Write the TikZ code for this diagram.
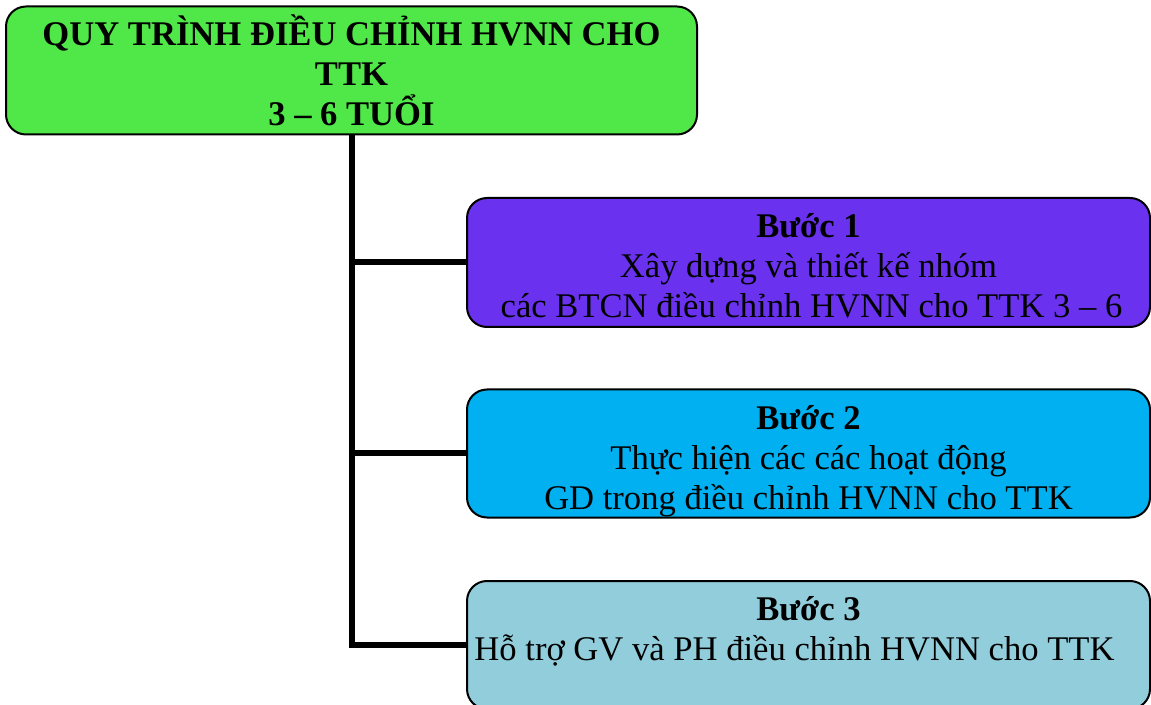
\documentclass[tikz,border=0pt]{standalone}
\usepackage{fontspec}
\setmainfont{Liberation Serif}
\usepackage{tikz}
\usepackage{tkz-euclide}

%Cores das caixas do fluxograma
\definecolor{verde}{RGB}{80,232,72}
\definecolor{roxo}{RGB}{106,50,238}
\definecolor{azul}{RGB}{0,176,240}
\definecolor{azulclaro}{RGB}{146,205,220}

%Unidade auxiliar: 1 pixel da figura original
\newlength{\pix}
\setlength{\pix}{0.5pt}

\begin{document}
\begin{tikzpicture}[x=0.5pt,y=-0.5pt, %cada unidade vale 1 pixel, com o eixo y para baixo
  passo/.style={draw=black, line width=1pt, rounded corners=10pt, inner sep=0pt,
    font=\fontsize{17.3pt}{20pt}\selectfont},
  ligacao/.style={draw=black, line width=3pt}]

\useasboundingbox (0,0) rectangle (1151,705);

%O comando \tkzDefPoints define os centros das caixas (x/y/NomedoPonto)
\tkzDefPoints{
351.5/70.5/T,
808.5/262.5/A,
808.5/453.5/B,
808.5/645/C}

%Caixa do titulo
%---------------------------------------------------
\node[passo, fill=verde] (titulo) at (T)
  {\parbox[c][128\pix][t]{691\pix}{\centering\bfseries\rule{0pt}{39\pix}QUY TRÌNH ĐIỀU CHỈNH HVNN CHO\\TTK\\3 – 6 TUỔI}};
%---------------------------------------------------

%Caixas dos passos
%---------------------------------------------------
\node[passo, fill=roxo] (passo1) at (A)
  {\parbox[c][129\pix][t]{683\pix}{\centering\rule{0pt}{40\pix}\textbf{Bước 1}\\Xây dựng và thiết kế nhóm\\\hspace*{6\pix}các BTCN điều chỉnh HVNN cho TTK 3 – 6}};

\node[passo, fill=azul] (passo2) at (B)
  {\parbox[c][128\pix][t]{683\pix}{\centering\rule{0pt}{40\pix}\textbf{Bước 2}\\Thực hiện các các hoạt động\\GD trong điều chỉnh HVNN cho TTK}};

\node[passo, fill=azulclaro] (passo3) at (C)
  {\parbox[c][128\pix][t]{683\pix}{\centering\rule{0pt}{39\pix}\textbf{Bước 3}\\Hỗ trợ GV và PH điều chỉnh HVNN cho TTK\hspace*{28\pix}}};
%---------------------------------------------------

%Conectando o titulo aos passos
%---------------------------------------------------
\draw[ligacao] (titulo.south) |- (passo3.west);
\draw[ligacao] (titulo.south |- passo1.west) -- (passo1.west);
\draw[ligacao] (titulo.south |- passo2.west) -- (passo2.west);

\end{tikzpicture}
\end{document}
